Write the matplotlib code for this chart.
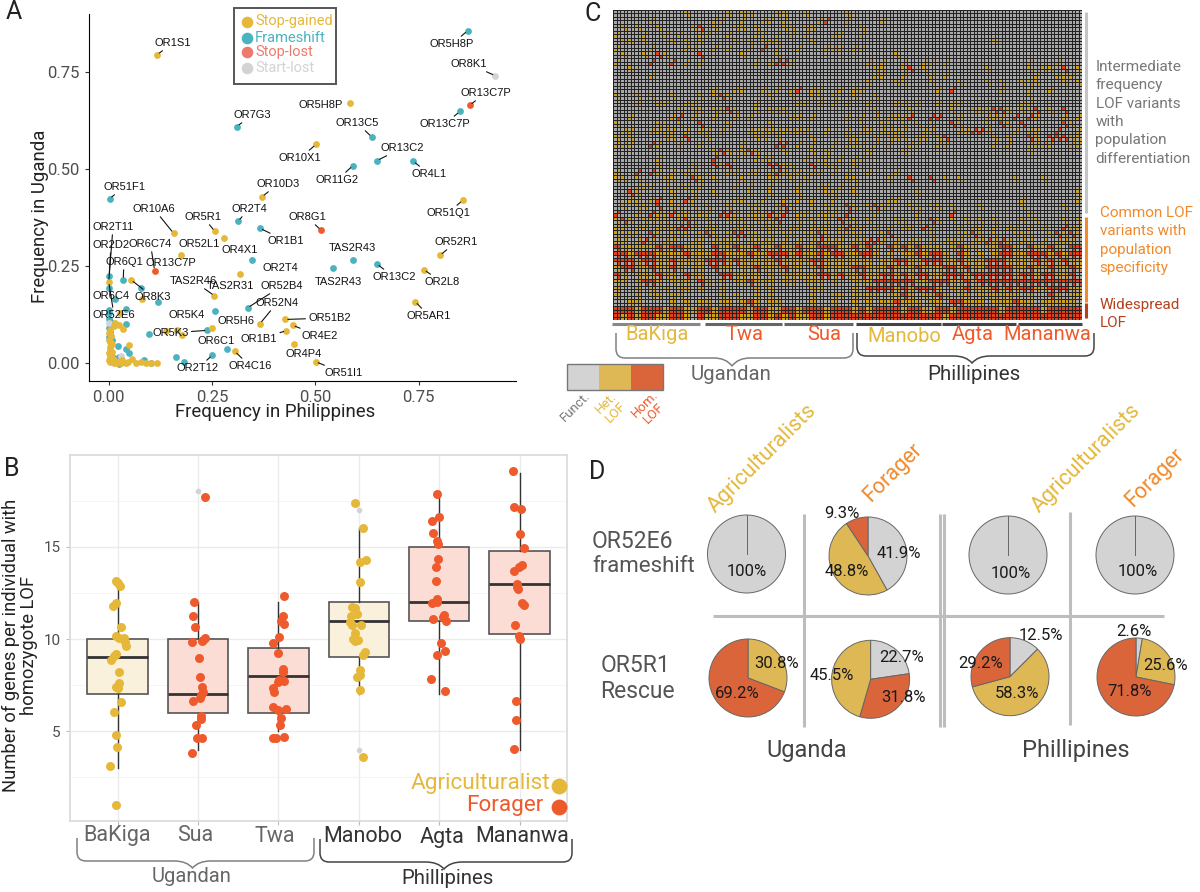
import numpy as np
import matplotlib
matplotlib.use("Agg")
import matplotlib.pyplot as plt
from matplotlib.colors import ListedColormap
from matplotlib.path import Path
from matplotlib.patches import PathPatch, Rectangle

plt.rcParams['font.family'] = ['Roboto', 'DejaVu Sans']

W, H = 1200, 892

GOLD = '#E5B83A'
TEAL = '#4BB3C0'
SALMON = '#EC7A6E'
LGRAY = '#D3D3D3'
RED = '#EE5A2B'
ORANGE = '#F08A2C'
DARKRED = '#B5401E'

# panel A values
gained_x = [.117, .585, .502, .371, .857, .157, .257, .278, .174, .802, .763, .318, .742, .256, .366, .427, .445, .430,
            .448, .305, .501, .249, .166, .139, .178, .054, .080, 0, .016, .024, .034, .028, .050, .057, 0, 0, .002, 0,
            0, .004, .012, .020, .041, .047, .066, .079, .091, .116, .102, .033,
            .003, .005, .008, .003, .006, .010, .015, .022, .030, .004, .002, .009, .012]
gained_y = [.795, .670, .564, .429, .420, .335, .340, .322, .278, .278, .241, .229, .159, .174, .102, .113, .098, .084,
            .049, .031, .004, .092, .085, .083, .074, .215, .166, .210, .105, .099, .088, .130, .048, .010, .078, .060,
            .043, .026, .008, .004, 0, 0, .002, .003, 0, .004, .002, .001, .002, .008,
            .085, .070, .050, .035, .020, .012, .006, .003, .001, .055, .015, .030, .095]
frame_x = [.869, .310, .850, .637, .649, .591, .737, .002, .313, .366, .347, .544, .591, .649, .336, .257, .239, .097,
           .120, .077, .035, .001, 0, .016, .001, .042, .041, 0, 0, .022, .041, .049, .286, .251, .162, .183, .086, .103,
           .026, .024, .012, 0, 0, .004, .002, .003, .008, .018, .030]
frame_y = [.857, .610, .649, .583, .522, .509, .521, .424, .366, .348, .265, .246, .265, .256, .143, .134, .085, .076,
           .158, .193, .215, .226, .193, .166, .137, .140, .102, .090, .068, .044, .037, .026, .037, .021, .016, .003, .009, 0,
           -.002, .017, .013, .130, .115, .110, .100, .080, .060, .012, .012]
stoplost_x = [.874, .514, .111]
stoplost_y = [.665, .343, .239]
startlost_x = [.936, .030, 0]
startlost_y = [.741, .020, .103]

lab_names = ['OR1S1', 'OR5H8P', 'OR8K1', 'OR13C7P', 'OR5H8P', 'OR7G3', 'OR13C5', 'OR13C7P', 'OR13C2', 'OR10X1', 'OR4L1',
             'OR11G2', 'OR10D3', 'OR51F1', 'OR51Q1', 'OR10A6', 'OR2T4', 'OR5R1', 'OR8G1', 'OR2T11', 'OR1B1', 'OR52R1',
             'OR52L1', 'OR2D2', 'OR6C74', 'TAS2R43', 'OR4X1', 'OR6Q1', 'OR13C7P', 'OR2T4', 'OR13C2', 'TAS2R46', 'TAS2R31',
             'OR52B4', 'TAS2R43', 'OR2L8', 'OR6C4', 'OR8K3', 'OR52N4', 'OR52E6', 'OR5K4', 'OR5AR1', 'OR51B2', 'OR5H6',
             'OR5K3', 'OR4E2', 'OR1B1', 'OR6C1', 'OR4P4', 'OR4C16', 'OR2T12', 'OR51I1']
lab_x = [.117, .869, .936, .874, .585, .310, .637, .850, .649, .502, .737, .591, .371, .002, .857, .157, .313, .257, .514,
         0, .366, .802, .174, .001, .111, .591, .278, .035, .111, .318, .649, .256, .256, .336, .544, .763, 0, .054, .366,
         0, .257, .742, .427, .249, .239, .445, .430, .286, .448, .305, .251, .501]
lab_y = [.795, .857, .741, .665, .670, .610, .583, .649, .522, .564, .521, .509, .429, .424, .420, .335, .366, .340, .343,
         .210, .348, .278, .278, .226, .239, .265, .322, .215, .239, .229, .256, .174, .174, .143, .246, .241, .193, .215, .102,
         .210, .134, .159, .113, .092, .085, .098, .084, .037, .049, .031, .021, .004]
# text centres of the labels, figure pixels, and which ones have a leader line
lab_px = [173, 452, 469, 485.5, 321, 252, 357, 445, 402, 300, 429, 337, 278, 124, 448, 154, 249, 203, 307, 113, 286, 456,
          199, 111, 150.5, 352, 240, 124, 171, 280, 394, 193.5, 230, 282, 338.5, 442, 111, 153, 277, 114, 187, 429, 329.5,
          236, 170.5, 320, 259, 216, 304, 250, 198, 344]
lab_py = [43, 44, 64, 93, 105, 115, 123, 124, 148, 158, 174, 180, 184, 187, 213, 209, 209, 217, 217, 227, 241, 242, 244,
          245, 244, 248, 250, 262, 263, 268, 277, 281, 286, 286, 282, 282, 296, 297, 303, 315, 315, 316, 318, 321, 333, 336,
          339, 341, 354, 366, 368, 373]
no_leader = ['OR5H8P_4', 'OR52L1_22', 'TAS2R43_25', 'OR4X1_26', 'OR13C7P_28', 'OR2T4_29', 'TAS2R31_32', 'TAS2R43_34',
             'OR5K4_40', 'OR5H6_43', 'OR6C1_47', 'OR4P4_48']

# panel B values
groups = ['BaKiga', 'Sua', 'Twa', 'Manobo', 'Agta', 'Mananwa']
box_q1 = [7, 6, 6, 9, 11, 10.25]
box_med = [9, 7, 8, 11, 12, 13]
box_q3 = [10, 10, 9.5, 12, 15, 14.75]
box_lo = [3, 4, 5, 7, 7, 4]
box_hi = [13, 12, 12, 16, 18, 19]
box_fliers = [[], [18], [], [17, 4], [], []]

bakiga_y = [13.16, 13.01, 12.89, 11.93, 11.79, 10.63, 10.18, 10.05, 10.05, 9.86, 9.64, 9.21, 9.08, 8.86, 8.21, 7.62, 7.38,
            7.35, 6.61, 6.06, 4.82, 4.15, 3.14, 1.03]
bakiga_dx = [-.02, .005, .03, -.02, -.057, .04, -.02, .024, .08, .09, .1, -.02, -.05, -.076, .014, .024, -.02, 0, .04, -.05,
             -.014, -.01, -.09, -.014]
sua_y = [17.67, 12.0, 11.26, 10.67, 9.86, 9.89, 10.04, 9.95, 8.99, 7.94, 7.38, 7.15, 6.97, 6.82, 6.66, 5.85, 5.65, 5.32,
         4.62, 4.62, 3.81]
sua_dx = [.086, -.043, -.067, -.033, -.076, .052, .086, .062, .01, .02, .048, .067, .033, .02, -.067, .038, .038, -.029,
          -.01, .052, -.076]
twa_y = [12.35, 11.26, 10.97, 10.79, 10.09, 9.80, 9.22, 8.38, 8.23, 7.65, 7.73, 7.78, 7.33, 7.15, 6.30, 6.16, 6.23, 5.70,
         5.34, 4.62, 4.62, 4.69]
twa_dx = [.076, .062, .038, .067, .014, -.062, -.01, .062, .052, 0, .067, .014, -.067, -.057, -.062, 0, .095, .038, .019,
          -.062, -.024, .076]
manobo_y = [17.36, 15.99, 14.17, 14.28, 13.10, 11.71, 11.66, 11.37, 11.26, 10.94, 10.74, 10.74, 10.31, 10.0, 9.93, 9.89,
            9.28, 9.13, 8.30, 8.05, 7.92, 7.24, 3.61]
manobo_dx = [-.052, .052, .019, .09, .01, -.081, -.043, -.024, -.1, -.105, .024, -.09, -.043, -.071, -.014, -.043, .081,
             .057, .019, .014, -.024, .01, .052]
agta_y = [17.83, 16.62, 16.37, 15.74, 15.32, 15.14, 14.35, 13.90, 13.12, 12.15, 11.97, 11.99, 11.10, 11.32, 11.21, 10.97,
          9.77, 9.37, 9.13, 7.85, 7.17]
agta_dx = [-.033, -.005, -.095, -.081, -.024, -.014, -.014, -.043, -.043, -.029, -.086, -.024, -.081, .057, .043, .086,
           .029, .076, -.033, -.1, .071]
mananwa_y = [19.08, 17.17, 17.02, 15.69, 14.95, 14.01, 13.92, 13.68, 13.0, 12.83, 12.71, 11.93, 11.86, 10.76, 10.16, 10.02,
             6.62, 5.61, 4.06]
mananwa_dx = [-.086, -.071, .014, .01, .057, .033, -.005, -.067, -.038, -.029, -.019, .029, .057, -.057, -.01, 0, -.043,
              -.043, -.071]

# panel C genotypes in blocks: . functional, h het, H hom
heat_left = [
    "..........h.....h.hh...hh..h.....h",
    ".....h........hh..h..hh.h....hH..h",
    ".h.h..h....hH.h..hh.h...hh.hh.....",
    "h...h..h.h..hh..h...hh.h.h.h...hh.",
    ".hh.h...h.h.h....h.h.hhh....h.....",
    "h....h....hh..h.h..h.H.h..h...hhh.",
    ".h..h.Hh....H.....h....h..........",
    "h....H..H.h.h.......h.hHHh........",
    "..h...............................",
    ".....h............................",
    "..................................",
    "..............h..hh..h.h.hH.hh..h.",
    "h..h.h..h...h.hHh.....h..h..hh.h..",
    "...h..hh..hh........h.....hh.h.h.h",
    ".........h.hh.hhHh..h.hhh.........",
    "..h.....hH.h..h..h.h.....hh.h....h",
    "h.....hh.h..H...h.....h...........",
    ".hh..hhhh.h.hh.h...hhhhhhhhh..h..h",
    "h.h....hh.H..h......hh.h....h....h",
    "hhh..Hh..h..h.....h....HH.h.h..h.h",
    "..............hHh.hHh...h...h.h...",
    "......h.......H..h..hhh....h.hh.h.",
    "......h....h..HhH.....HHhh..H.hh..",
    "h..H.Hh.h.hh.h..hh.hh.hHhhh.hh.h.h",
    "hh.h...hh..Hh.h...h...hh.h.h.....h",
    "...hhh.h.hh.h....h.h..h...h..hh.h.",
    "..Hh....h..h..h....h..h...h...hh..",
    "..hh.hH.h.Hh.....hh..h..h.h.h..h..",
    ".h.hh.H.hh.h.h..h..hh..hHh..h.hh.H",
    "H..h.HhhHhh.hh.HHh.hhhHhH.hh.hhh.H",
    "hHh.hhhh.hHh.h..hhh.hhhH..h.h.h.Hh",
    "hh.hh.hhhHHh.hh..hhh.hhh.hh.hhh.hH",
    "hhhh.Hh.hhh.hHh.hHHhh.h.hh.hhHh.hh",
    "hh.hHh.hh..hh.hhhh.hhhh.h.h.hHhhh.",
    "HhhhhhHhHHhhh.HhhHhhHhhHhhHhhHHHhh",
    "HHhHHHhhhhHhhhHHhhhHhhHHHhHhhHhHHh",
    "HHHhHHhhHhhhhHHHhHhhhhhHhhhhHHhhhh",
    "hHHhhHhhHh.hh.Hhh.hhHhhhHhh.hHhhhh",
    "Hh.hhhHhh.Hhh..HHhhhh.h.hhhhhHHhHh",
    "hh.hHHh.hhh.Hh.h.hhHhhh.hh.hhh.h..",
    "h..h.h.h.hh.h..h....h.h.....hh....",
    "h..h.hh.hh.....h.h..h.h.....h..hh.",
    "..hh....h.h.hh.hh.hHh.hh....h..h..",
    "HHHhHHHhHHhhHHhHHHHhHHhhHHhHHHhHHH",
    "HhHhHHhhHHh.HhhHHHhhHHhHhHhhHHhHHH",
]
heat_right = [
    "",
    "....h",
    ".h",
    ".h",
    "....................h",
    "hh",
    "......h",
    "..h.h..h..hh.h...........h...h",
    "...hh..hH.h........h.....h.hh.H.h",
    "...hh..h...h.h............h..hhh",
    "..h...hh...h...h...h.h..hhh...h.h",
    "hh..........h.H......h...h..h",
    "h..h.....................h",
    "..h...hh.h..h.hh........hh.......",
    "...h....h.....h..hhhHHh.hhH.h.H",
    ".h.h.hhhH..HH..h...hhh.H.Hh...h.h",
    ".h..hh.h.h.h..Hh...h.Hh.H.....Hh.",
    ".hh.hhhh..hh...hhHHh...h.hh..H..h",
    "h..h.hhh.hh.hH......h.h..Hh.HHHhh",
    "hh.h.h..hh..hh......h.h..hhhh..hh",
    "..h....h.................h",
    "hh",
    "h",
    "..h...h",
    "h....h..H..H.h.h.......h...h",
    "h",
    "h........h......................h",
    ".....hh.................h.......h",
    "h.hHhh..hh.hh.h...h.....h.....h",
    "...h.....h....H..........h",
    "h.h...hh.h.Hh.h.h.h.h...h.h...h.h",
    "hh.h.h.hh.Hh...h.hh.h.hh.h.h..Hhh",
    "hh..hH.....h...hhHh.h..hhh..hHhHh",
    "hhHHh.h.hh.h.hhh.hhHhHh.hh.h.hhh.",
    "HhHh.HhHhHhhh.hHhh.hhHHh.HhhHh.HH",
    "hHHh.h.hhHhHHh.Hh.h.hHHhhHHHhHhHH",
    "hhh.hhHHhhHHHhhHhhhHHHhhhhHhHhHhh",
    "HHhhhHhhhHhhhHHhHhhHHHHhhHhhHhhHh",
    "hHhhHHhHhHHhhHHHhHHHHHHhHHhHHhhH.",
    "hhhHHHHHHhhHHHhhHhHHHHHHHHHHHHHHH",
    "h.HHHHhHhHHHh.hhHhhhHhHhHHhhHHHhh",
    "hhhh.hhHh.hhHh.hh.hhhhhh.h..Hh.hh",
    "h.h.hhHhhh.hh.HHhhh.hhhHhh.hhhhh.",
    "hHhHHHHhHHhhHHhHHHHHHhHHHHHhHHHHH",
    "HHHHHHHHHHHHHhHHHHHHHHHHHHHHHHHHH",
]

# panel D shares, clockwise from 12 o'clock
pie_e6 = [[100], [41.9, 48.8, 9.3], [100], [100]]
pie_e6_colors = [['#D3D3D3'], ['#D3D3D3', '#DDB855', '#DB653B'], ['#D3D3D3'], ['#D3D3D3']]
pie_r1 = [[30.8, 69.2], [22.7, 31.8, 45.5], [12.5, 58.3, 29.2], [2.6, 25.6, 71.8]]
pie_r1_colors = [['#DDB855', '#DB653B'], ['#D3D3D3', '#DB653B', '#DDB855'], ['#D3D3D3', '#DDB855', '#DB653B'],
                 ['#D3D3D3', '#DDB855', '#DB653B']]


def px_axes(fig, left, top, right, bottom):
    return fig.add_axes([left / W, 1 - bottom / H, (right - left) / W, (bottom - top) / H])


def curly(ax, x0, x1, y0, y1, xtip, ytip, color):
    r = 9
    verts = [(x0, y0), (x0, y1 - r), (x0, y1), (x0 + r, y1), (xtip - 18, y1), (xtip - 6, y1), (xtip, ytip),
             (xtip + 6, y1), (xtip + 18, y1), (x1 - r, y1), (x1, y1), (x1, y1 - r), (x1, y0)]
    codes = [Path.MOVETO, Path.LINETO, Path.CURVE3, Path.CURVE3, Path.LINETO, Path.CURVE3, Path.CURVE3,
             Path.CURVE3, Path.CURVE3, Path.LINETO, Path.CURVE3, Path.CURVE3, Path.LINETO]
    ax.add_patch(PathPatch(Path(verts, codes), fc='none', ec=color, lw=1.1))


fig = plt.figure(figsize=(W / 100, H / 100), dpi=100)

# overlay in figure pixels for everything that is not on a data axis
ov = fig.add_axes([0, 0, 1, 1], zorder=10)
ov.set_xlim(0, W)
ov.set_ylim(H, 0)
ov.axis('off')

# ---- panel A
axA = px_axes(fig, 88.5, 14, 516, 380.5)
axA.scatter(frame_x, frame_y, s=24, color=TEAL, lw=0, zorder=2)
axA.scatter(startlost_x, startlost_y, s=24, color=LGRAY, lw=0, zorder=2)
axA.scatter(gained_x, gained_y, s=24, color=GOLD, lw=0, zorder=3)
axA.scatter(stoplost_x, stoplost_y, s=24, color=RED, lw=0, zorder=3)
axA.set_xlim(-.049, .986)
axA.set_ylim(-.0443, .900)
axA.set_xticks([0, .25, .5, .75], ['0.00', '0.25', '0.50', '0.75'])
axA.set_yticks([0, .25, .5, .75], ['0.00', '0.25', '0.50', '0.75'])
axA.tick_params(labelsize=12, labelcolor='#4D4D4D', color='#333333', length=3)
axA.spines[['top', 'right']].set_visible(False)
ov.text(275, 412, 'Frequency in Philippines', ha='center', va='center', fontsize=13.4, color='#222222')
ov.text(40, 216, 'Frequency in Uganda', ha='center', va='center', rotation=90, fontsize=13.4, color='#222222')
for i, name in enumerate(lab_names):
    leader = name + '_' + str(i) not in no_leader
    axA.annotate(name, xy=(lab_x[i], lab_y[i]), xytext=(lab_px[i], lab_py[i]), textcoords=ov.transData,
                 ha='center', va='center', fontsize=8, family='Liberation Sans', color='#111111', zorder=5,
                 annotation_clip=False,
                 arrowprops=dict(arrowstyle='-', lw=.8, color='#111111', shrinkA=0, shrinkB=2) if leader else None)

ov.add_patch(Rectangle((234, 8), 102, 76, fc='white', ec='#555555', lw=1.4))
leg_names = ['Stop-gained', 'Frameshift', 'Stop-lost', 'Start-lost']
leg_colors = [GOLD, TEAL, SALMON, LGRAY]
for name, col, y in zip(leg_names, leg_colors, [21.5, 37.5, 52, 67.5]):
    ov.scatter([247], [y], s=70, color=col, lw=0)
    ov.text(255, y, name, color=col, fontsize=10.5, va='center', ha='left')

# ---- panel B
axB = px_axes(fig, 69.7, 455, 567, 821)
axB.set_xlim(.405, 6.59)
axB.set_ylim(.14, 19.97)
axB.set_axisbelow(True)
axB.set_xticks(range(1, 7), [''] * 6)
axB.set_yticks([5, 10, 15], ['5', '10', '15'])
axB.set_yticks([2.5, 7.5, 12.5, 17.5], minor=True)
axB.grid(True, which='major', color='#EBEBEB', lw=1)
axB.grid(True, which='minor', color='#F2F2F2', lw=.6)
axB.tick_params(which='minor', length=0)
axB.tick_params(labelsize=11, labelcolor='#4D4D4D', color='#BBBBBB', length=3)
for s in axB.spines.values():
    s.set_color('#D9D9D9')
    s.set_linewidth(1.2)
stats = []
for i in range(6):
    stats.append(dict(q1=box_q1[i], med=box_med[i], q3=box_q3[i], whislo=box_lo[i], whishi=box_hi[i], fliers=box_fliers[i]))
parts = axB.bxp(stats, positions=range(1, 7), widths=.75, patch_artist=True, showcaps=False, manage_ticks=False,
                boxprops=dict(edgecolor='#555555', linewidth=1.2),
                medianprops=dict(color='#333333', linewidth=2),
                whiskerprops=dict(color='#333333', linewidth=1),
                flierprops=dict(marker='o', markersize=3, markerfacecolor=LGRAY, markeredgecolor=LGRAY))
for i, box in enumerate(parts['boxes']):
    box.set_facecolor('#F9F1DC' if i in (0, 3) else '#FBDDD5')
all_y = [bakiga_y, sua_y, twa_y, manobo_y, agta_y, mananwa_y]
all_dx = [bakiga_dx, sua_dx, twa_dx, manobo_dx, agta_dx, mananwa_dx]
for i in range(6):
    xs = [i + 1 + d for d in all_dx[i]]
    axB.scatter(xs, all_y[i], s=42, lw=0, zorder=5, color=GOLD if i in (0, 3) else RED)
ov.text(20, 645, 'Number of genes per individual with\nhomozygote LOF', ha='center', va='center', rotation=90,
        fontsize=13.2, color='#222222', linespacing=1.05)

for name, x, y, col in zip(groups, [117.5, 195.6, 275, 363, 442, 522], [835, 835.5, 836, 837, 837, 837],
                           ['#666666'] * 3 + ['#333333'] * 3):
    ov.text(x, y, name, ha='center', va='center', fontsize=15.5, color=col)
curly(ov, 77, 314, 838, 861, 192.5, 868, '#808080')
curly(ov, 320, 572, 839, 862, 444, 869, '#444444')
ov.text(191.5, 876, 'Ugandan', ha='center', va='center', fontsize=14.5, color='#666666')
ov.text(448, 879, 'Phillipines', ha='center', va='center', fontsize=14.7, color='#333333')
ov.text(550, 784, 'Agriculturalist', ha='right', va='center', fontsize=16.2, color=GOLD)
ov.text(544, 806, 'Forager', ha='right', va='center', fontsize=16.2, color=RED)
ov.scatter([559], [786], s=130, color=GOLD, lw=0)
ov.scatter([559], [807], s=130, color=RED, lw=0)

# ---- panel C
rows = [a.ljust(34, '.')[:34] + b.ljust(33, '.')[:33] for a, b in zip(heat_left, heat_right)]
blocks = np.array([['.hH'.index(c) for c in row] for row in rows])
# one block covers 2x2 cells; the sparse part keeps only a diagonal so it is not blobby
pat_even = np.array([[1, 0], [0, 1]])
pat_odd = np.array([[0, 1], [1, 0]])
pat_mid = np.array([[1, 1], [0, 1]])
pat_full = np.ones((2, 2), dtype=int)
cells = []
for r in range(blocks.shape[0]):
    if r < 34:
        pat = pat_even if r % 2 == 0 else pat_odd
    elif r < 43:
        pat = pat_mid
    else:
        pat = pat_full
    cells.append(np.kron(blocks[r:r + 1], pat))
grid = np.vstack(cells)
axC = px_axes(fig, 613, 10, 1082, 320)
axC.pcolormesh(grid[::-1], cmap=ListedColormap(['#A8A8A8', '#CFA01A', '#DE4219']), vmin=0, vmax=2,
               edgecolors='#222222', linewidth=.45)
axC.axis('off')

bar_x0 = [612, 705, 784, 856, 942, 1018]
bar_x1 = [700, 782, 853, 941, 1015.5, 1082]
bar_col = ['#888888', '#666666', '#666666', '#444444', '#444444', '#444444']
for x0, x1, col in zip(bar_x0, bar_x1, bar_col):
    ov.plot([x0, x1], [323.5, 323.5], color=col, lw=2.2, solid_capstyle='butt')
heat_names = ['BaKiga', 'Twa', 'Sua', 'Manobo', 'Agta', 'Mananwa']
heat_cols = [GOLD, RED, RED, GOLD, RED, RED]
for name, x, y, col in zip(heat_names, [657, 744.5, 824.5, 904, 973, 1047], [335, 335, 334, 337, 334, 334], heat_cols):
    ov.text(x, y, name, ha='center', va='center', fontsize=14.5, color=col)
curly(ov, 616, 853, 333, 358, 732, 366, '#808080')
curly(ov, 857, 1094, 333, 356, 972, 363, '#444444')
ov.text(730.6, 374, 'Ugandan', ha='center', va='center', fontsize=14.7, color='#666666')
ov.text(973.5, 374, 'Phillipines', ha='center', va='center', fontsize=14.8, color='#333333')

ov.plot([1085.7, 1085.7], [12, 213], color='#C4C4C4', lw=2.2, solid_capstyle='butt')
ov.plot([1085.7, 1085.7], [217, 302], color=ORANGE, lw=2.2, solid_capstyle='butt')
ov.plot([1085.7, 1085.7], [303, 318], color=DARKRED, lw=2.2, solid_capstyle='butt')
for line, y in zip(['Intermediate', 'frequency', 'LOF variants', 'with', 'population', 'differentiation'],
                   [66.7, 85, 103.7, 122, 140, 158.7]):
    ov.text(1095.5, y, line, ha='left', va='center', fontsize=11, color='#777777')
for line, y in zip(['Common LOF', 'variants with', 'population', 'specificity'], [213, 231, 250, 268]):
    ov.text(1099.6, y, line, ha='left', va='center', fontsize=11, color=ORANGE)
for line, y in zip(['Widespread', 'LOF'], [305, 323]):
    ov.text(1099.6, y, line, ha='left', va='center', fontsize=11, color=DARKRED)

key_x = [567, 599.2, 631]
key_col = ['#D3D3D3', '#DDB855', '#DB653B']
for x, col in zip(key_x, key_col):
    ov.add_patch(Rectangle((x, 364), 32, 26, fc=col, ec='none'))
ov.add_patch(Rectangle((567, 364), 96, 26, fc='none', ec='#777777', lw=1))
ov.text(575.5, 407, 'Funct.', rotation=45, ha='center', va='center', fontsize=9.5, color='#777777')
ov.text(611, 408, 'Het.\nLOF', rotation=45, ha='center', va='center', fontsize=9.5, color=GOLD, linespacing=1)
ov.text(649, 409, 'Hom.\nLOF', rotation=45, ha='center', va='center', fontsize=9.5, color=RED, linespacing=1)

# ---- panel D
top_cx = [746.5, 868, 1008, 1135]
top_cy = [554, 556, 555, 555]
bot_cx = [748, 870.6, 1010, 1136]
bot_cy = [678, 679.3, 676.7, 677]
for vals, cols, cx, cy in zip(pie_e6 + pie_r1, pie_e6_colors + pie_r1_colors, top_cx + bot_cx, top_cy + bot_cy):
    r = 39
    axP = px_axes(fig, cx - 1.25 * r, cy - 1.25 * r, cx + 1.25 * r, cy + 1.25 * r)
    axP.pie(vals, colors=cols, startangle=90, counterclock=False,
            wedgeprops=dict(edgecolor='#666666', linewidth=.7))
    if len(vals) == 1:
        axP.plot([0, 0], [0, 1], color='#666666', lw=.7)
    axP.patch.set_alpha(0)

top_tx = [747, 899, 847, 842, 1010.6, 1138]
top_ty = [571.7, 554, 572, 514, 574, 572]
top_vals = [100, 41.9, 48.8, 9.3, 100, 100]
bot_tx = [777, 737, 902, 903, 832, 1040.6, 1017, 981, 1134, 1166, 1129.6]
bot_ty = [664, 694, 657, 698, 676, 636, 694, 664, 631, 666, 692]
bot_vals = [30.8, 69.2, 22.7, 31.8, 45.5, 12.5, 58.3, 29.2, 2.6, 25.6, 71.8]
for x, y, v in zip(top_tx + bot_tx, top_ty + bot_ty, top_vals + bot_vals):
    ov.text(x, y, f'{v}%', ha='center', va='center', fontsize=12, color='#1A1A1A')

for x in [804, 940, 944]:
    ov.plot([x, x], [514, 727], color='#BDBDBD', lw=2.2, solid_capstyle='butt')
ov.plot([1069.5, 1069.5], [512, 725], color='#BDBDBD', lw=2.2, solid_capstyle='butt')
ov.plot([713, 1164], [615.7, 615.7], color='#BDBDBD', lw=2.2, solid_capstyle='butt')

ov.text(762, 459, 'Agriculturalists', rotation=45, ha='center', va='center', fontsize=15.5, color=GOLD)
ov.text(1086, 459, 'Agriculturalists', rotation=45, ha='center', va='center', fontsize=15.5, color=GOLD)
ov.text(893, 473, 'Forager', rotation=45, ha='center', va='center', fontsize=15.5, color=ORANGE)
ov.text(1155, 478, 'Forager', rotation=45, ha='center', va='center', fontsize=15.5, color=ORANGE)
ov.text(592, 541, 'OR52E6', ha='left', va='center', fontsize=16.5, color='#555555')
ov.text(592, 567, 'frameshift', ha='left', va='center', fontsize=16, color='#555555')
ov.text(600.6, 665, 'OR5R1', ha='left', va='center', fontsize=16.5, color='#555555')
ov.text(600.6, 692, 'Rescue', ha='left', va='center', fontsize=16.5, color='#555555')
ov.text(806.6, 750, 'Uganda', ha='center', va='center', fontsize=17, color='#444444')
ov.text(1075.5, 750, 'Phillipines', ha='center', va='center', fontsize=17, color='#444444')

# panel letters
for letter, x, y in zip('ABCD', [14, 12, 593, 597], [12, 469, 14, 472]):
    ov.text(x, y, letter, ha='center', va='center', fontsize=18, color='#222222')

fig.savefig('out.png', dpi=100)
